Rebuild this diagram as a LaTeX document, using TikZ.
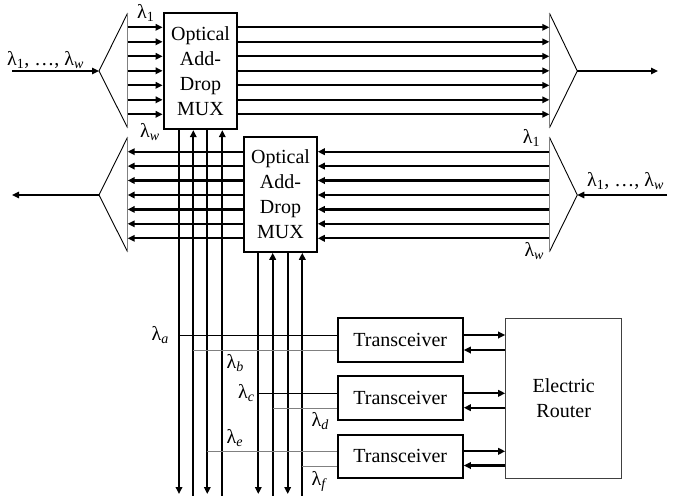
\documentclass[tikz,border=0pt]{standalone}
\usepackage{fontspec}
\setmainfont{Liberation Serif}
\usetikzlibrary{arrows.meta}
\newcommand\lamb[1]{λ\textsubscript{#1}}
\begin{document}
\begin{tikzpicture}[x=1pt,y=-1pt,
  ch/.style={line width=2.2pt},
  tip/.style={-{Triangle[length=7pt,width=6.5pt]}},
  box/.style={draw, line width=2.2pt, inner sep=0pt, align=center, font=\fontsize{20}{25}\selectfont},
  rbox/.style={draw=black!75, line width=1pt, inner sep=0pt, align=center, font=\fontsize{20}{25}\selectfont},
  bar/.style={draw=gray, line width=1.5pt},
  tri/.style={line width=0.9pt},
  io/.style={line width=1.3pt},
  lbl/.style={inner sep=0pt, anchor=base west, font=\fontsize{20}{24}\selectfont},
  wl/.style={line width=1pt},
  wlg/.style={line width=1pt, draw=gray}
]
\useasboundingbox (0,0) rectangle (673,496);

% boxes
\node[box, minimum width=73.6pt, minimum height=115.7pt] (mux1) at (200.5,71.2) {Optical\\Add-\\Drop\\MUX};
\node[box, minimum width=72.4pt, minimum height=115pt] (mux2) at (280.5,194.2) {Optical\\Add-\\Drop\\MUX};
\node[box, minimum width=125pt, minimum height=43.4pt] (t1) at (400.2,340) {Transceiver};
\node[box, minimum width=125pt, minimum height=43.4pt] (t2) at (400.2,398) {Transceiver};
\node[box, minimum width=125pt, minimum height=43.4pt] (t3) at (400.2,456.3) {Transceiver};
\node[rbox, minimum width=116pt, minimum height=160pt] (rt) at (563.7,398.3) {Electric\\Router};

% splitters / combiners
\coordinate (apL1) at (99,71);   \coordinate (inL1) at (12,71);
\coordinate (apR1) at (577.3,71); \coordinate (outR1) at (658,71);
\coordinate (apL2) at (99,195);  \coordinate (outL2) at (12,195);
\coordinate (apR2) at (577.3,195); \coordinate (inR2) at (667,195);

\draw[tri] (127.7,13) -- (apL1) -- (127.7,128);
\draw[bar] (127.7,13) -- (127.7,128);
\draw[tri] (549.3,13) -- (apR1) -- (549.3,128);
\draw[bar] (549.3,13) -- (549.3,128);
\draw[tri] (127.7,137) -- (apL2) -- (127.7,252);
\draw[bar] (127.7,137) -- (127.7,252);
\draw[tri] (549.3,137) -- (apR2) -- (549.3,252);
\draw[bar] (549.3,137) -- (549.3,252);

\draw[io,tip] (inL1) -- (apL1);
\draw[io,tip] (apR1) -- (outR1);
\draw[io,tip] (apL2) -- (outL2);
\draw[io,tip] (inR2) -- (apR2);

% top band channels
\foreach \y in {27.3,41.8,56.3,70.8,85.3,99.8,114.3} {
  \draw[ch,tip] (127.7,\y) -- (mux1.west |- 0,\y);
  \draw[ch,tip] (mux1.east |- 0,\y) -- (549.3,\y);
}
% bottom band channels
\foreach \y in {151.7,166.1,180.5,195,209.4,223.8,238.3} {
  \draw[ch,tip] (549.3,\y) -- (mux2.east |- 0,\y);
  \draw[ch,tip] (mux2.west |- 0,\y) -- (127.7,\y);
}

% vertical add/drop lines
\coordinate (d1) at (179,0 |- mux1.south);
\coordinate (u1) at (193.3,0 |- mux1.south);
\coordinate (d2) at (207.3,0 |- mux1.south);
\coordinate (u2) at (222.3,0 |- mux1.south);
\coordinate (d3) at (258.3,0 |- mux2.south);
\coordinate (u3) at (272.7,0 |- mux2.south);
\coordinate (d4) at (287.7,0 |- mux2.south);
\coordinate (u4) at (302.3,0 |- mux2.south);
\foreach \c in {d1,d2,d3,d4} { \draw[ch,tip] (\c) -- (\c |- 0,494); }
\foreach \c in {u1,u2,u3,u4} { \draw[ch,tip] (\c |- 0,498) -- (\c); }

% wavelength taps
\draw[wl]  (d1 |- 0,335.5) -- (t1.west |- 0,335.5);
\draw[wlg] (u1 |- 0,350)   -- (t1.west |- 0,350);
\draw[wl]  (d3 |- 0,393.3) -- (t2.west |- 0,393.3);
\draw[wlg] (u3 |- 0,408)   -- (t2.west |- 0,408);
\draw[wlg] (d2 |- 0,451.7) -- (t3.west |- 0,451.7);
\draw[wlg] (u4 |- 0,466)   -- (t3.west |- 0,466);

% transceiver <-> router
\draw[ch,tip] (t1.east |- 0,335) -- (rt.west |- 0,335);
\draw[ch,tip] (rt.west |- 0,350) -- (t1.east |- 0,350);
\draw[ch,tip] (t2.east |- 0,393.3) -- (rt.west |- 0,393.3);
\draw[ch,tip] (rt.west |- 0,407.7) -- (t2.east |- 0,407.7);
\draw[ch,tip] (t3.east |- 0,451.3) -- (rt.west |- 0,451.3);
\draw[ch,tip] (rt.west |- 0,465.5) -- (t3.east |- 0,465.5);

% labels
\node[lbl] (lin) at (7,65) {\lamb{1}, …, \lamb{\textit{w}}};
\node[lbl] (lin2) at (587,186.5) {\lamb{1}, …, \lamb{\textit{w}}};
\node[lbl] (l1a) at (137,18.5) {\lamb{1}};
\node[lbl] (lwa) at (140,137) {\lamb{\textit{w}}};
\node[lbl] (l1b) at (522.7,143) {\lamb{1}};
\node[lbl] (lwb) at (524.3,256.5) {\lamb{\textit{w}}};
\node[lbl] (la) at (151.5,340) {\lamb{\textit{a}}};
\node[lbl] (lb) at (226.5,368) {\lamb{\textit{b}}};
\node[lbl] (lc) at (238,398) {\lamb{\textit{c}}};
\node[lbl] (ld) at (311.5,426.5) {\lamb{\textit{d}}};
\node[lbl] (le) at (226.5,443) {\lamb{\textit{e}}};
\node[lbl] (lf) at (311.5,485) {\lamb{\textit{f}}};
\end{tikzpicture}
\end{document}
